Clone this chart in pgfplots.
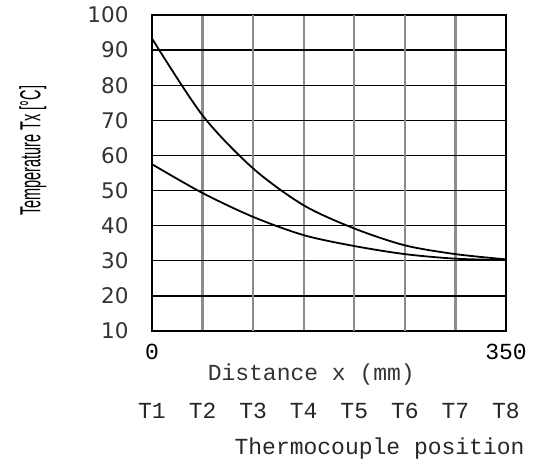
\documentclass[border=0pt]{standalone}
\usepackage{pgfplots}
\pgfplotsset{compat=1.18}
\usepackage{fontspec}
\setmainfont{Liberation Mono}
\newfontfamily\ticksf{DejaVu Sans}
\newfontfamily\labsf{Liberation Sans}
\usepackage{graphicx}

\begin{document}
\begin{tikzpicture}
\begin{axis}[
    at={(0pt,0pt)}, anchor=south west,
    scale only axis,
    width=354pt, height=316pt,
    xmin=0, xmax=350, ymin=10, ymax=100,
    xtick={0,50,150,300,350},
    xticklabels={0,,,,350},
    extra x ticks={100,200,250},
    extra x tick labels={},
    extra x tick style={grid=major, major grid style={black, line width=1.3pt}},
    ytick={10,20,...,100},
    grid=major,
    major x grid style={black!45, line width=2.2pt},
    major y grid style={black, line width=1.3pt},
    major tick length=0pt,
    axis line style={black, line width=1.6pt},
    /pgf/number format/assume math mode=true,
    yticklabel style={font=\fontsize{21.5}{21.5}\selectfont\ticksf, text=black!80, xshift=-20pt},
    xticklabel style={font=\fontsize{23}{23}\selectfont, yshift=-10pt},
    xlabel={Distance x (mm)},
    xlabel style={font=\fontsize{23}{23}\selectfont, text=black!80, at={(axis description cs:0.45,0)}, anchor=center, yshift=-44pt},
    clip=false,
]
\addplot[black, line width=1.8pt, smooth] coordinates {
    (0,93.3) (50,71.4) (100,56.3) (150,45.8) (200,39.2) (250,34.4) (300,31.9) (350,30.4)
};
\addplot[black, line width=1.8pt, smooth] coordinates {
    (0,57.5) (50,49.3) (100,42.5) (150,37.3) (200,34.2) (250,31.9) (300,30.6) (350,30.2)
};
\tikzset{tlab/.style={font=\fontsize{23}{23}\selectfont, text=black!85, anchor=center, yshift=-80pt}}
\node[tlab] at (axis cs:0,10) {T1};
\node[tlab] at (axis cs:50,10) {T2};
\node[tlab] at (axis cs:100,10) {T3};
\node[tlab] at (axis cs:150,10) {T4};
\node[tlab] at (axis cs:200,10) {T5};
\node[tlab] at (axis cs:250,10) {T6};
\node[tlab] at (axis cs:300,10) {T7};
\node[tlab] at (axis cs:350,10) {T8};
\node[font=\fontsize{23}{23}\selectfont, text=black!85, anchor=east] at (rel axis cs:1,0) [xshift=22pt, yshift=-118pt] {Thermocouple position};
\node[xshift=-119pt, rotate=90, anchor=center, font=\fontsize{29}{29}\selectfont\labsf] at (rel axis cs:0,0.57) {\scalebox{0.5}[1]{Temperature Tx [°C]}};
\end{axis}
\pgfresetboundingbox
\path (-152pt,-135pt) rectangle (381pt,331pt);
\end{tikzpicture}
\end{document}
